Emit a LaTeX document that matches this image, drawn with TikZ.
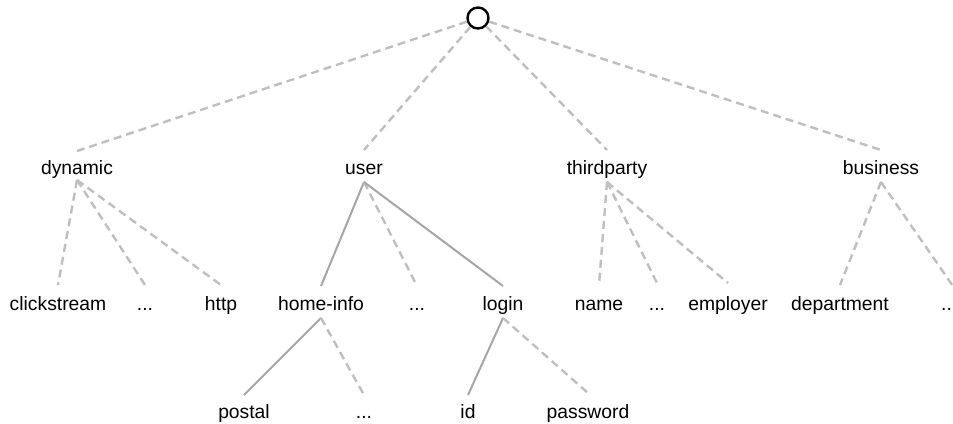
\documentclass[tikz,border=0pt]{standalone}
\usepackage{fontspec}
\setmainfont{Liberation Sans}
\begin{document}
\begin{tikzpicture}[x=1pt,y=-1pt,
  lbl/.style={inner sep=0pt,anchor=base,font=\fontsize{19.3}{23}\selectfont},
  dashedge/.style={draw=black!25,line width=2.4pt,dash pattern=on 8pt off 5pt},
  solidedge/.style={draw=black!35,line width=2pt},
  rootnode/.style={circle,draw=black,line width=2.4pt,minimum size=21pt,inner sep=0pt}]
\useasboundingbox (0,0) rectangle (953,423);
\clip (0,0) rectangle (953,423);
% root
\node[rootnode] (root) at (478,18) {};
% level 1
\node[lbl] (dyn) at (77,174) {dynamic};
\node[lbl] (usr) at (364,174) {user};
\node[lbl] (thp) at (607,174) {thirdparty};
\node[lbl] (bus) at (881,174) {business};
% level 2
\node[lbl] (clk) at (58,310) {clickstream};
\node[lbl] (dd1) at (145,310) {...};
\node[lbl] (htp) at (221,310) {http};
\node[lbl] (hom) at (321,310) {home-info};
\node[lbl] (ud1) at (417,310) {...};
\node[lbl] (lgn) at (503,310) {login};
\node[lbl] (nam) at (599,310) {name};
\node[lbl] (td1) at (657,310) {...};
\node[lbl] (emp) at (728,310) {employer};
\node[lbl] (dep) at (840,310) {department};
\node[lbl,anchor=base west] (bd1) at (941,310) {...};
% level 3
\node[lbl] (pst) at (244,418) {postal};
\node[lbl] (hd1) at (364,418) {...};
\node[lbl] (idn) at (468,418) {id};
\node[lbl] (pwd) at (588,418) {password};
% root edges
\draw[dashedge] (root) -- ([yshift=23pt]dyn.base);
\draw[dashedge] (root) -- ([yshift=24pt]usr.base);
\draw[dashedge] (root) -- ([yshift=24pt]thp.base);
\draw[dashedge] (root) -- ([yshift=24pt]bus.base);
% dynamic
\draw[dashedge] ([yshift=-6pt]dyn.base) -- ([yshift=25pt]clk.base);
\draw[dashedge] ([yshift=-6pt]dyn.base) -- ([yshift=25pt]dd1.base);
\draw[dashedge] ([yshift=-6pt]dyn.base) -- ([yshift=25pt]htp.base);
% user
\draw[solidedge] ([yshift=-8pt]usr.base) -- ([yshift=24pt]hom.base);
\draw[dashedge] ([yshift=-8pt]usr.base) -- ([yshift=24pt]ud1.base);
\draw[solidedge] ([yshift=-8pt]usr.base) -- ([yshift=24pt]lgn.base);
% thirdparty
\draw[dashedge] ([yshift=-8pt]thp.base) -- ([yshift=25pt]nam.base);
\draw[dashedge] ([yshift=-8pt]thp.base) -- ([yshift=27pt]td1.base);
\draw[dashedge] ([yshift=-8pt]thp.base) -- ([yshift=27pt]emp.base);
% business
\draw[dashedge] ([yshift=-8pt]bus.base) -- ([yshift=25pt]dep.base);
\draw[dashedge] ([yshift=-8pt]bus.base) -- ([xshift=3pt,yshift=25pt]bd1.base);
% home-info
\draw[solidedge] ([yshift=-8pt]hom.base) -- ([yshift=23pt]pst.base);
\draw[dashedge] ([yshift=-8pt]hom.base) -- ([yshift=23pt]hd1.base);
% login
\draw[solidedge] ([yshift=-8pt]lgn.base) -- ([yshift=23pt]idn.base);
\draw[dashedge] ([yshift=-8pt]lgn.base) -- ([yshift=25pt]pwd.base);
\end{tikzpicture}
\end{document}
